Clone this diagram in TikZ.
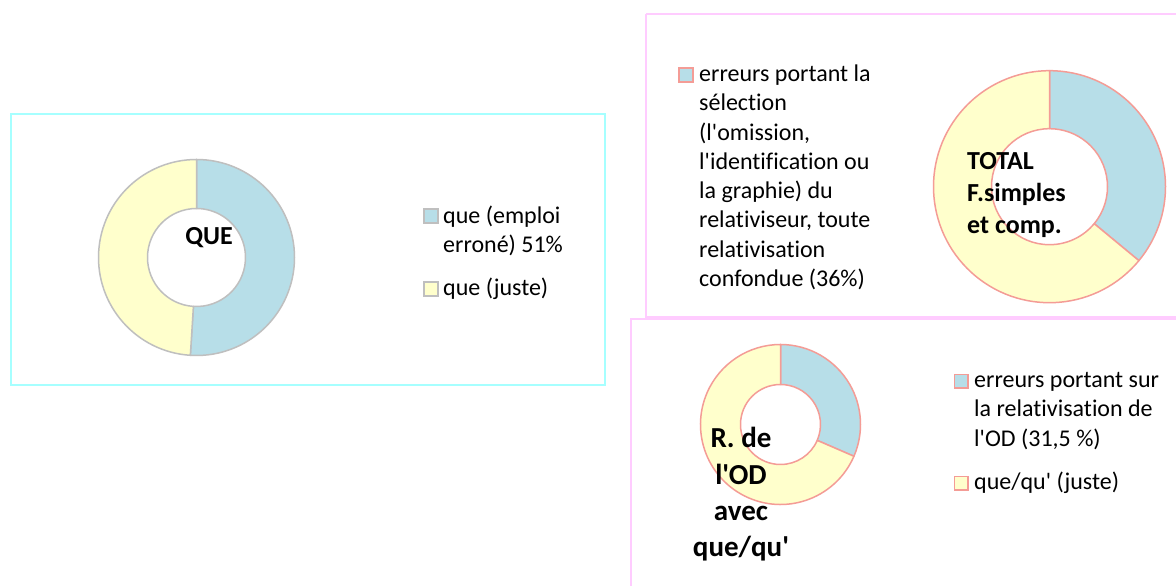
\documentclass[tikz,border=0pt]{standalone}
\usepackage{fontspec}
\setmainfont{Carlito}[Ligatures={TeXOff,NoCommon}]
\usetikzlibrary{calc}
\definecolor{segblue}{HTML}{B7DEE8}
\definecolor{segyellow}{HTML}{FFFFCC}
\definecolor{ringgray}{HTML}{BFBFBF}
\definecolor{ringsalmon}{HTML}{F49C96}
\definecolor{boxcyan}{HTML}{A6FFFF}
\definecolor{boxpink}{HTML}{FFCCFF}
\tikzset{
  frame/.style={line width=2pt},
  seg/.style={line width=1.5pt, line join=round},
  legsq/.style={line width=1.3pt},
  legtext/.style={anchor=base west, inner sep=0pt, text=black},
  ctrlabel/.style={inner sep=0pt, text=black},
}
% donut sector: center, outer r, inner r, start angle, end angle
\newcommand{\donutseg}[6]{%
  \path[#6] ($(#1)+(#4:#2)$) arc[start angle=#4, end angle=#5, radius=#2]
    -- ($(#1)+(#5:#3)$) arc[start angle=#5, end angle=#4, radius=#3] -- cycle;}
\begin{document}
\begin{tikzpicture}[x=1pt,y=1pt]
\useasboundingbox (0,0) rectangle (1176,586);
\path[fill=white] (0,0) rectangle (1176,586);

% frames
\draw[frame, boxcyan] (11,472) rectangle (605,201);
\draw[frame, boxpink] (646,572) -- (1180,572);
\draw[frame, boxpink] (646,572) -- (646,269) -- (1180,269);
\draw[frame, boxpink] (631,-5) -- (631,267) -- (1180,267);

% donut 1 (QUE)
\coordinate (c1) at (196.5,328.5);
\donutseg{c1}{98pt}{49pt}{90}{-93.6}{seg, draw=ringgray, fill=segblue}
\donutseg{c1}{98pt}{49pt}{-93.6}{-270}{seg, draw=ringgray, fill=segyellow}
\node[ctrlabel, anchor=base, font=\bfseries\fontsize{26}{31}\selectfont] (lque) at (209,341) {QUE};

% legend 1
\draw[legsq, draw=ringgray, fill=segblue] (424,363) rectangle (438,377);
\node[legtext, font=\fontsize{24}{28.5}\selectfont] (l1a) at (443,362)
  {\parbox[t]{160pt}{\raggedright que (emploi\\erroné) 51\%}};
\draw[legsq, draw=ringgray, fill=segyellow] (424,290) rectangle (438,304);
\node[legtext, font=\fontsize{24}{28.5}\selectfont] (l1b) at (443,290) {que (juste)};

% donut 2 (TOTAL)
\coordinate (c2) at (1049.5,399.3);
\donutseg{c2}{116pt}{58pt}{90}{-39.6}{seg, draw=ringsalmon, fill=segblue}
\donutseg{c2}{116pt}{58pt}{-39.6}{-270}{seg, draw=ringsalmon, fill=segyellow}
\node[ctrlabel, anchor=base west, font=\bfseries\fontsize{26}{32}\selectfont] (ltot) at (967,416)
  {\parbox[t]{150pt}{\raggedright TOTAL\\F.simples\\et comp.}};

% legend 2
\draw[legsq, draw=ringsalmon, fill=segblue] (679,504) rectangle (693,518);
\node[legtext, font=\fontsize{24}{29.3}\selectfont] (l2a) at (699,504.5)
  {\parbox[t]{200pt}{\raggedright erreurs portant la\\sélection\\(l'omission,\\l'identification ou\\la graphie) du\\relativiseur, toute\\relativisation\\confondue (36\%)}};

% donut 3 (R. de l'OD)
\coordinate (c3) at (780.5,161.5);
\donutseg{c3}{80pt}{40pt}{90}{-23.4}{seg, draw=ringsalmon, fill=segblue}
\donutseg{c3}{80pt}{40pt}{-23.4}{-270}{seg, draw=ringsalmon, fill=segyellow}
\node[ctrlabel, anchor=base, font=\bfseries\fontsize{29}{36.3}\selectfont] (lod) at (741,138)
  {\parbox[t]{140pt}{\centering R. de\\l'OD\\avec\\que/qu'}};

% legend 3
\draw[legsq, draw=ringsalmon, fill=segblue] (954.5,198) rectangle (968,211.5);
\node[legtext, font=\fontsize{24}{29.3}\selectfont] (l3a) at (974,198.5)
  {\parbox[t]{200pt}{\raggedright erreurs portant sur\\la relativisation de\\l'OD (31,5 \%)}};
\draw[legsq, draw=ringsalmon, fill=segyellow] (954.5,96) rectangle (968,109.5);
\node[legtext, font=\fontsize{24}{29.3}\selectfont] (l3b) at (974,96.5) {que/qu' (juste)};
\end{tikzpicture}
\end{document}
